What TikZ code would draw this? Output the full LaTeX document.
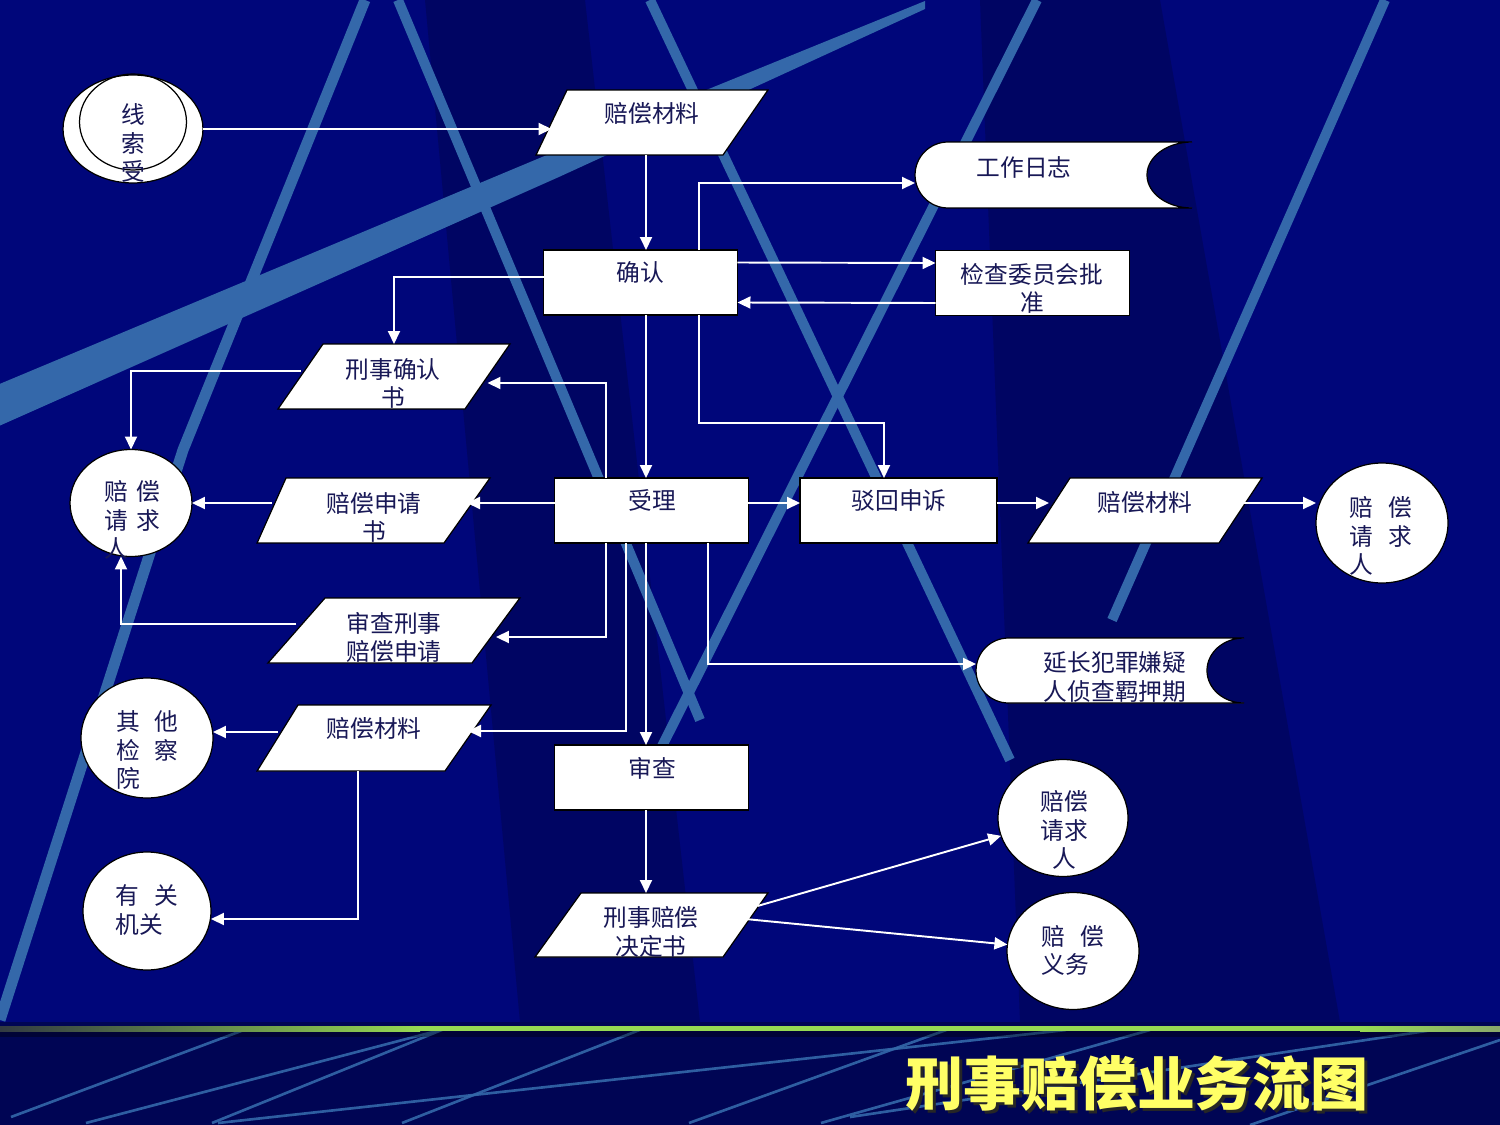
\documentclass[tikz,border=0pt]{standalone}
\usepackage{fontspec}
\newfontfamily\cjk{Noto Sans CJK SC}
\usepackage{tikz}
\usetikzlibrary{shapes.geometric}
\usetikzlibrary{arrows.meta,calc}

\definecolor{bgnavy}{RGB}{0,6,122}
\definecolor{deepnavy}{RGB}{0,4,72}
\definecolor{stripe}{RGB}{52,104,170}
\definecolor{ink}{RGB}{24,24,86}
\definecolor{titley}{RGB}{255,255,102}
\definecolor{lineg}{RGB}{150,218,82}
\definecolor{lineend}{RGB}{50,58,66}

\newcommand{\zgap}{\hspace{0.3cm}}

\tikzset{
  box/.style={rectangle,draw=black,fill=white,line width=0.7pt,
    minimum width=3.88cm,minimum height=1.3cm,inner sep=0pt,outer sep=0pt},
  para/.style 2 args={trapezium,trapezium left angle=#1,trapezium right angle=#2,
    draw=black,fill=white,line width=0.7pt,inner ysep=0.65cm,outer sep=0pt},
  disc/.style={ellipse,draw=black,fill=white,line width=0.7pt,inner sep=0pt,outer sep=0pt},
  slot/.style={rectangle,inner sep=0pt,outer sep=0pt},
  store/.style={draw=black,fill=white,line width=0.7pt},
  txt/.style={font=\cjk\fontsize{13.5pt}{16pt}\selectfont,text=ink,align=center,inner sep=0pt},
  txtl/.style={txt,align=left},
  ttl/.style={font=\cjk\bfseries\fontsize{33pt}{36pt}\selectfont,inner sep=0pt},
  arr/.style={draw=white,line width=1.1pt,-{Triangle[width=0.24cm,length=0.26cm]}},
}

\begin{document}
\begin{tikzpicture}[x=0.02cm,y=-0.02cm]
\useasboundingbox (0,0) rectangle (1500,1125);

%背景
\fill[bgnavy] (0,0) rectangle (1500,1125);
\begin{scope}
  \clip (0,0) rectangle (1500,1022);
  \fill[deepnavy,opacity=0.45] (425,0) -- (585,0) -- (700,1022) -- (520,1022) -- cycle;
  \fill[deepnavy,opacity=0.45] (980,0) -- (1160,0) -- (1340,1022) -- (1020,1022) -- cycle;
  \fill[stripe] (-10,388) -- (560,149.5) -- (925,1) -- (925,9) -- (560,176.5) -- (-10,430) -- cycle;
  \draw[stripe,line width=0.22cm,line join=round] (365,0) -- (183,450) -- (0,1020);
  \foreach \a/\b/\c/\d in {398/0/700/720, 650/0/1010/760, 1037/0/640/790, 1385/0/1112/620}
    \draw[stripe,line width=0.2cm] (\a,\b) -- (\c,\d);
\end{scope}

%底部
\fill[deepnavy!75!bgnavy] (0,1022) rectangle (1500,1125);
\begin{scope}
  \clip (0,1031) rectangle (1500,1125);
  \foreach \a/\b/\c/\d in {11/1117/276/1018, 86/1123/471/1022, 212/1123/459/1023,
      218/1123/1066/1030, 402/1123/660/1022, 689/1123/960/1025, 821/1123/1150/1030,
      850/1117/1500/1020, 1250/1125/1500/1040}
    \draw[stripe,line width=1.5pt,opacity=0.9] (\a,\b) -- (\c,\d);
\end{scope}
\fill[black,opacity=0.35] (0,1031) rectangle (1500,1037);
\shade[left color=lineend,right color=lineg] (0,1026) rectangle (420,1031);
\fill[lineg] (420,1026) rectangle (1360,1031);
\shade[left color=lineg,right color=lineg!45!gray] (1360,1026) rectangle (1500,1031);
\node (titlesh) at (1140,1086) [ttl,text=black!85] {刑事赔偿业务流图};
\node (title) at (1137,1083) [ttl,text=titley] {刑事赔偿业务流图};

%线索受
\node (xs) at (133,129) [disc,minimum width=2.8cm,minimum height=2.16cm] {};
\node (xsi) at (133,122) [ellipse,draw=black,line width=0.7pt,inner sep=0pt,
  minimum width=2.14cm,minimum height=1.92cm] {};
\begin{scope}
  \clip (133,129) ellipse [x radius=1.4cm,y radius=1.08cm];
  \node (xst) at (133,143) [txt] {线\\索\\受};
\end{scope}

\node (pc1) at (645,122.5) [para={64.5}{124.7},inner xsep=1.56cm] {};
\node (pc1t) at (652,113) [txt] {赔偿材料};

\node (rz) at (1053.5,175) [slot,minimum width=5.54cm,minimum height=1.32cm] {};
\filldraw[store] ([xshift=0.66cm]rz.north west) -- (rz.north east)
  arc [start angle=90,end angle=270,x radius=0.9cm,y radius=0.66cm]
  -- ([xshift=0.66cm]rz.south west)
  arc [start angle=270,end angle=90,radius=0.66cm] -- cycle;
\node (rzt) at (1024,167) [txt] {工作日志};

\node (qr) at (640.5,282.5) [box] {};
\node (qrt) at (640,272) [txt] {确认};
\node (jc) at (1032.5,283) [box] {};
\node (jct) at (1032,288) [txt] {检查委员会批\\准};

\node (xsq) at (394,376.5) [para={55.3}{124.7},inner xsep=1.42cm] {};
\node (xsqt) at (393,383) [txt] {刑事确认\\书};

\node (lq) at (131,503) [disc,minimum width=2.44cm,minimum height=2.14cm] {};
\node (lqt) at (132.5,520) [txtl] {赔\hspace{0.16cm}偿\\请\hspace{0.16cm}求\\人};
\node (sqs) at (365,510.5) [para={66}{125.3},inner xsep=1.58cm] {};
\node (sqst) at (374,517) [txt] {赔偿申请\\书};
\node (sl) at (651.5,510.5) [box] {};
\node (slt) at (652,500) [txt] {受理};
\node (bh) at (898.5,510.5) [box,minimum width=3.94cm] {};
\node (bht) at (899,500) [txt] {驳回申诉};
\node (pc3) at (1144.5,510.5) [para={57.1}{123.5},inner xsep=1.49cm] {};
\node (pc3t) at (1145,502) [txt] {赔偿材料};
\node (rq) at (1382,523) [disc,minimum width=2.64cm,minimum height=2.4cm] {};
\node (rqt) at (1381,536) [txtl] {赔\zgap 偿\\请\zgap 求\\人};

\node (scsq) at (398.5,630.5) [para={48.7}{126.4},inner xsep=1.47cm] {};
\node (scsqt) at (394,637) [txt] {审查刑事\\赔偿申请};
\node (yc) at (1110,670.5) [slot,minimum width=5.36cm,minimum height=1.3cm] {};
\filldraw[store] ([xshift=0.65cm]yc.north west) -- (yc.north east)
  arc [start angle=90,end angle=270,x radius=0.74cm,y radius=0.65cm]
  -- ([xshift=0.65cm]yc.south west)
  arc [start angle=270,end angle=90,radius=0.65cm] -- cycle;
\node (yct) at (1115,677) [txt] {延长犯罪嫌疑\\人侦查羁押期};

\node (pc2) at (371.5,738) [para={58.2}{124.9},inner xsep=1.47cm,inner ysep=0.66cm] {};
\node (pc2t) at (374,728) [txt] {赔偿材料};
\node (qt) at (147,738) [disc,minimum width=2.64cm,minimum height=2.4cm] {};
\node (qtt) at (147.5,750) [txtl] {其\zgap 他\\检\zgap 察\\院};
\node (sc) at (651.5,777.5) [box] {};
\node (sct) at (652,768) [txt] {审查};
\node (yg) at (147,911) [disc,minimum width=2.56cm,minimum height=2.36cm] {};
\node (ygt) at (147,910) [txtl] {有\zgap 关\\机关};

\node (jds) at (652,925) [para={54.3}{125.1},inner xsep=1.42cm,inner ysep=0.64cm] {};
\node (jdst) at (651,932) [txt] {刑事赔偿\\决定书};
\node (bq) at (1063,818) [disc,minimum width=2.6cm,minimum height=2.34cm] {};
\node (bqt) at (1064,830) [txt] {赔偿\\请求\\人};
\node (yw) at (1073,951) [disc,minimum width=2.64cm,minimum height=2.34cm] {};
\node (ywt) at (1072.5,950) [txtl] {赔\zgap 偿\\义务};

%连线
\coordinate (ca) at (699,183);
\coordinate (cb) at (606,383);
\coordinate (cc) at (884,423);
\coordinate (cd) at (646,0);
\coordinate (ce) at (626,731);
\coordinate (cf) at (708,664);
\coordinate (cg) at (358,919);
\coordinate (ch) at (606,637);

\draw[arr] (xs.east) -- (xs.east -| pc1.west);
\draw[arr] (pc1.south -| cd) -- (qr.north -| cd);
\draw[arr] (qr.north -| ca) |- (rz.west |- ca);
\draw[arr] ([yshift=0.4cm]qr.east) -- ([yshift=0.4cm]jc.west);
\draw[arr] ([yshift=-0.4cm]jc.west) -- ([yshift=-0.4cm]qr.east);
\draw[arr] ([yshift=0.11cm]qr.west) -| (xsq.north);
\draw[arr] ([yshift=0.11cm]xsq.west) -| (lq.north);
\draw[arr] (sl.north -| cb) |- (xsq.east |- cb);
\draw[arr] (qr.south -| cd) -- (sl.north -| cd);
\draw[arr] (qr.south -| ca) |- (cc) -- (bh.north -| cc);
\draw[arr] ([yshift=0.15cm]sl.west) -- ([yshift=0.15cm]sl.west -| sqs.east);
\draw[arr] (lq.east -| sqs.west) -- (lq.east);
\draw[arr] (sl.south -| cb) |- (scsq.east |- ch);
\draw[arr] ([yshift=0.13cm]scsq.west) -| ([xshift=-0.2cm]lq.south);
\draw[arr] (sl.south -| ce) |- (pc2.east |- ce);
\draw[arr] ([yshift=0.12cm]pc2.west) -- ([yshift=0.12cm]qt.east);
\draw[arr] (pc2.south -| cg) |- (yg.east |- cg);
\draw[arr] (sl.south -| cd) -- (sc.north -| cd);
\draw[arr] (sl.south -| cf) |- (yc.west |- cf);
\draw[arr] ([yshift=0.15cm]sl.east) -- ([yshift=0.15cm]bh.west);
\draw[arr] ([yshift=0.15cm]bh.east) -- ([yshift=0.15cm]bh.east -| pc3.west);
\draw[arr] ([yshift=0.15cm]pc3.east) -- ([yshift=0.15cm]pc3.east -| rq.west);
\draw[arr] (sc.south -| cd) -- (jds.north -| cd);
\draw[arr] ([xshift=0.24cm,yshift=0.38cm]jds.east) -- (bq);
\draw[arr] ([yshift=0.12cm]jds.east) -- (yw);

\end{tikzpicture}
\end{document}
